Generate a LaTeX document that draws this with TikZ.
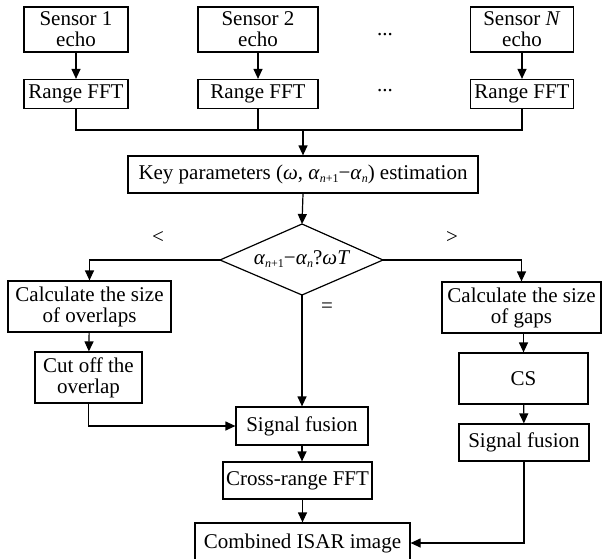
\documentclass[tikz,border=0pt]{standalone}
\usepackage{fontspec}
\setmainfont{Liberation Serif}
\usetikzlibrary{arrows.meta}
\newcommand\sbs[1]{\raisebox{-0.35ex}{\fontsize{12}{12}\selectfont #1}}
\newcommand\gal{\textit{α}}
\tikzset{
  box/.style={draw, line width=1.2pt, inner sep=0pt, align=center, font=\fontsize{21}{21}\selectfont},
  lbl/.style={inner sep=0pt, font=\fontsize{21}{21}\selectfont},
  arr/.style={-{Triangle[length=10pt,width=9pt]}, line width=1.2pt},
  ln/.style={line width=1.2pt}
}
\begin{document}
\begin{tikzpicture}[x=1pt,y=-1pt]
\useasboundingbox (0,0) rectangle (602,559);
% sensors
\node[box, minimum width=104pt, minimum height=45pt] (s1) at (76,29.5) {Sensor 1\\echo};
\node[box, minimum width=120pt, minimum height=45pt] (s2) at (258,29.5) {Sensor 2\\echo};
\node[box, minimum width=103pt, minimum height=45pt] (sN) at (522,29.5) {Sensor \textit{N}\\echo};
\node[box, minimum width=104pt, minimum height=29pt] (r1) at (76,94) {Range FFT};
\node[box, minimum width=120pt, minimum height=29pt] (r2) at (258,94) {Range FFT};
\node[box, minimum width=103pt, minimum height=29pt] (rN) at (522,94) {Range FFT};
\node[lbl] (d1) at (385,35) {...};
\node[lbl] (d2) at (385,91) {...};
\coordinate (bus) at (303,130);
\draw[arr] (s1) -- (r1);
\draw[arr] (s2) -- (r2);
\draw[arr] (sN) -- (rN);
\draw[ln] (r1.south) |- (bus) -| (rN.south);
\draw[ln] (r2.south) -- (r2.south |- bus);
% key params
\node[box, minimum width=350pt, minimum height=37pt] (key) at (303,174.5)
  {Key parameters (\textit{ω}, \gal\sbs{\textit{n}+1}−\gal\sbs{\textit{n}}) estimation};
\draw[arr] (bus) -- (key.north);
% diamond
\coordinate (dt) at (302,224);
\coordinate (db) at (302,295);
\coordinate (dl) at (220,260);
\coordinate (dr) at (383,260);
\draw[ln] (dt) -- (dr) -- (db) -- (dl) -- cycle;
\node[lbl] (dtext) at (302,259) {\gal\sbs{\textit{n}+1}−\gal\sbs{\textit{n}}?\textit{ωT}};
\draw[arr] (key.south) -- (dt);
\node[lbl] (lt) at (158,237) {<};
\node[lbl] (gt) at (452,237) {>};
\node[lbl] (eq) at (327,308) {=};
% left branch
\node[box, minimum width=163pt, minimum height=51pt] (ov) at (89.5,306.5) {Calculate the size\\of overlaps};
\node[box, minimum width=107pt, minimum height=51pt] (cut) at (88.5,377.5) {Cut off the\\overlap};
% right branch
\node[box, minimum width=159pt, minimum height=51pt] (gp) at (521.5,307.5) {Calculate the size\\of gaps};
\node[box, minimum width=129pt, minimum height=51pt] (cs) at (523.5,378.5) {CS};
\node[box, minimum width=130pt, minimum height=37pt] (sf2) at (524,442.5) {Signal fusion};
% center
\node[box, minimum width=132pt, minimum height=38pt] (sf) at (302,426) {Signal fusion};
\node[box, minimum width=149pt, minimum height=37pt] (cr) at (297.5,480.5) {Cross-range FFT};
\node[box, minimum width=215pt, minimum height=40pt] (ci) at (302.5,543) {Combined ISAR image};
% connectors
\draw[arr] (dl) -| (ov.north);
\draw[arr] (dr) -| (gp.north);
\draw[arr] (db) -- (db |- sf.north);
\draw[arr] (ov) -- (cut);
\draw[arr] (cut.south) |- (sf.west);
\draw[arr] (gp.south -| cs.north) -- (cs.north);
\draw[arr] (cs) -- (sf2);
\draw[arr] (sf.south) -- (sf.south |- cr.north);
\draw[arr] (cr.south -| ci.north) -- (ci.north);
\draw[arr] (sf2.south) |- (ci.east);
\end{tikzpicture}
\end{document}
